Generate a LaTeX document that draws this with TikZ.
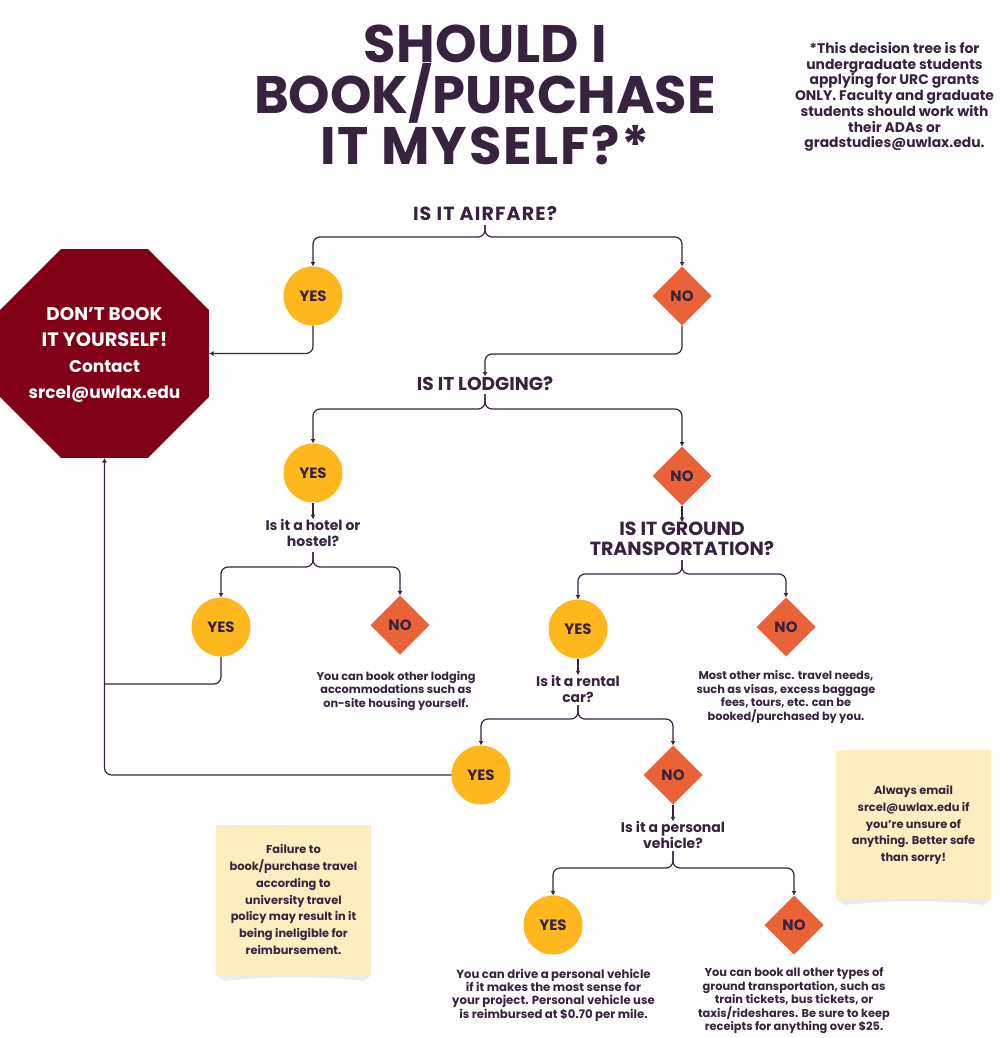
\documentclass[tikz,border=0pt]{standalone}
\usepackage{fontspec}
\setmainfont{Poppins}
\usetikzlibrary{shapes.geometric,arrows.meta}
\definecolor{ink}{HTML}{38233F}
\definecolor{yesc}{HTML}{FFB71E}
\definecolor{noc}{HTML}{EA6238}
\definecolor{stopc}{HTML}{800018}
\definecolor{notec}{HTML}{FDEEBF}
\definecolor{notepale}{HTML}{E9ECEF}
\newcommand{\dropa}[1]{\raisebox{-1pt}{#1}}
\tikzset{
  every node/.style={outer sep=0pt},
  yesnode/.style={circle,fill=yesc,inner sep=0pt,minimum size=59pt,text=ink,font=\bfseries\fontsize{15}{15}\selectfont},
  nonode/.style={diamond,fill=noc,inner sep=0pt,minimum size=59pt,text=ink,font=\bfseries\fontsize{15}{15}\selectfont},
  bigq/.style={text=ink,inner sep=0pt,align=center,font=\bfseries\fontsize{19}{20}\selectfont},
  smallq/.style={text=ink,inner sep=0pt,align=center,font=\bfseries\fontsize{14}{16}\selectfont},
  bodytext/.style={text=ink,inner sep=0pt,align=center,font=\bfseries\fontsize{11.3}{13.7}\selectfont},
  notetext/.style={text=ink,inner sep=0pt,align=center,font=\bfseries\fontsize{11.4}{16.8}\selectfont},
  titletext/.style={text=ink,inner sep=0pt,align=center,font=\bfseries\fontsize{52.8}{51}\selectfont},
  notebox/.style={fill=notec,draw=none,inner sep=0pt},
  plainlink/.style={draw=ink,line width=1.2pt,rounded corners=7pt},
  link/.style={plainlink,-{Latex[length=4.5pt,width=5pt]}},
}
\begin{document}
\begin{tikzpicture}[x=1pt,y=-1pt]
\useasboundingbox (0,0) rectangle (1000,1038);
\node[titletext] (title) at (485,95) {{\addfontfeature{LetterSpace=1}SHOULD I}\\BOOK/PURCHASE\\{\addfontfeature{LetterSpace=3.4}IT MYSELF?*}};
\node[text=ink,inner sep=0pt,align=center,font=\bfseries\fontsize{13.9}{15.7}\selectfont] (disc) at (894.5,97) {*This decision tree is for\\undergraduate students\\applying for URC grants\\ONLY. Faculty and graduate\\students should work with\\their ADAs or\\gradstudies@uwlax.edu.};
% octagon
\node[regular polygon,regular polygon sides=8,fill=stopc,inner sep=0pt,minimum size=226.2pt] (stop) at (104.5,353.5) {};
\node[text=white,inner sep=0pt,align=center,font=\bfseries\fontsize{17}{26}\selectfont] (stoptext) at (104.5,355) {{\fontsize{18.4}{26}\selectfont DON’T BOOK}\\{\fontsize{19.4}{26}\selectfont IT YOURSELF!}\\Contact\\srcel@uwlax.edu};
% questions
\node[bigq] (q1) at (485,214) {\addfontfeature{LetterSpace=6}IS IT AIRFARE?};
\node[bigq,font=\bfseries\fontsize{18.6}{20}\selectfont] (q2) at (485,383.5) {IS IT LODGING?};
\node[smallq] (q3) at (313,533) {Is it a hotel or\\hostel?};
\node[bigq] (q4) at (682,539) {IS IT GROUND\\TRANSPORTATION?};
\node[smallq] (q5) at (578,689) {Is it a rental\\car?};
\node[smallq] (q6) at (673,835) {Is it a personal\\vehicle?};
% yes/no
\node[yesnode] (y1) at (313,296) {\dropa{YES}};
\node[nonode] (n1) at (682,296) {\dropa{NO}};
\node[yesnode] (y2) at (313,473) {\dropa{YES}};
\node[nonode] (n2) at (682,476) {\dropa{NO}};
\node[yesnode] (y3) at (221,627) {\dropa{YES}};
\node[nonode] (n3) at (400,625) {\dropa{NO}};
\node[yesnode] (y5) at (578,629) {\dropa{YES}};
\node[nonode] (n4) at (786,627) {\dropa{NO}};
\node[yesnode] (y4) at (481,775) {\dropa{YES}};
\node[nonode] (n5) at (673,775) {\dropa{NO}};
\node[yesnode] (y6) at (553,925) {\dropa{YES}};
\node[nonode] (n6) at (794,925) {\dropa{NO}};
% body texts
\node[bodytext] (t1) at (396,691) {You can book other lodging\\accommodations such as\\on-site housing yourself.};
\node[bodytext] (t2) at (786,697) {Most other misc. travel needs,\\such as visas, excess baggage\\fees, tours, etc. can be\\booked/purchased by you.};
\node[bodytext,font=\bfseries\fontsize{11.7}{13.4}\selectfont] (t3) at (553.5,995) {You can drive a personal vehicle\\if it makes the most sense for\\your project. Personal vehicle use\\is reimbursed at \$0.70 per mile.};
\node[bodytext,font=\bfseries\fontsize{11.4}{13.5}\selectfont] (t4) at (794,1001) {You can book all other types of\\ground transportation, such as\\train tickets, bus tickets, or\\taxis/rideshares. Be sure to keep\\receipts for anything over \$25.};
% notes
\fill[notepale] (216,975) -- (371,975) -- (364,981) .. controls (320,976) and (270,976) .. (224,981) -- cycle;
\fill[notepale] (836,899) -- (991,899) -- (984,905) .. controls (940,900) and (890,900) .. (844,905) -- cycle;
\node[notebox,minimum width=155pt,minimum height=150pt] (note1) at (293.5,900) {};
\node[notebox,minimum width=155pt,minimum height=149pt] (note2) at (913.5,824.5) {};
\node[notetext] (nt1) at (293.5,899.5) {Failure to\\book/purchase travel\\according to\\university travel\\policy may result in it\\being ineligible for\\reimbursement.};
\node[notetext] (nt2) at (913.5,825) {Always email\\srcel@uwlax.edu if\\you’re unsure of\\anything. Better safe\\than sorry!};
% connectors
\coordinate (b1) at (485,225);
\draw[link] (b1) -- (485,237) -| (y1.north);
\draw[link] (b1) -- (485,237) -| (n1.north);
\draw[link] (y1.south) |- (stop.east);
\draw[link] (n1.south) |- (485,354) -- (q2.north);
\coordinate (b2) at (485,394);
\draw[link] (b2) -- (485,409) -| (y2.north);
\draw[link] (b2) -- (485,409) -| (n2.north);
\draw[link] (y2.south) -- (q3.north);
\coordinate (b3) at (313,552);
\draw[link] (b3) -- (313,567) -| (y3.north);
\draw[link] (b3) -- (313,567) -| (n3.north);
\coordinate (j1) at (104.5,684);
\draw[plainlink] (y3.south) |- (j1);
\draw[link] (y4.west) -| (stop.south);
\draw[link] (n2.south) -- (q4.north);
\coordinate (b4) at (682,560);
\draw[link] (b4) -- (682,574) -| (y5.north);
\draw[link] (b4) -- (682,574) -| (n4.north);
\draw[link] (y5.south) -- (q5.north);
\coordinate (b5) at (578,705);
\draw[link] (b5) -- (578,719) -| (y4.north);
\draw[link] (b5) -- (578,719) -| (n5.north);
\draw[link] (n5.south) -- (q6.north);
\coordinate (b6) at (673,851);
\draw[link] (b6) -- (673,868) -| (y6.north);
\draw[link] (b6) -- (673,868) -| (n6.north);
\end{tikzpicture}
\end{document}
